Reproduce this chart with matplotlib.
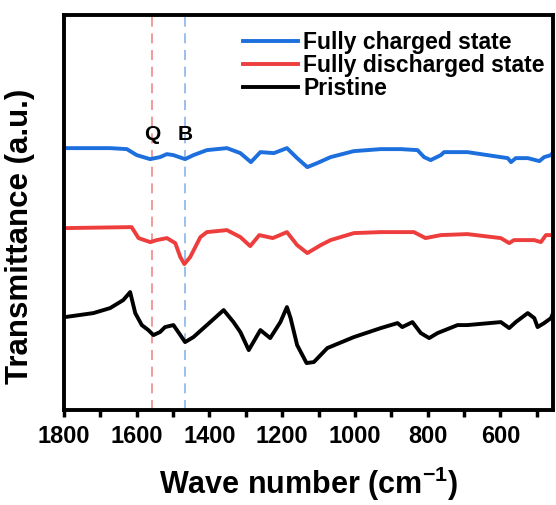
import matplotlib
matplotlib.use("Agg")
import matplotlib.pyplot as plt
from matplotlib.ticker import MultipleLocator

plt.rcParams["font.family"] = ["Liberation Sans", "DejaVu Sans"]
plt.rcParams["font.weight"] = "bold"
plt.rcParams["mathtext.fontset"] = "custom"
plt.rcParams["mathtext.bf"] = "Liberation Sans:bold"
plt.rcParams["mathtext.rm"] = "Liberation Sans:bold"

# ---------- Data (arbitrary offset units) ----------
charged_wn = [1797, 1673, 1627, 1600, 1563, 1536, 1517, 1499, 1467, 1444, 1407,
              1352, 1315, 1286, 1260, 1223, 1187, 1159, 1131, 1104, 1067, 1003,
              929, 874, 828, 810, 792, 764, 755, 691, 599, 580, 571, 558, 525,
              493, 480, 461, 452]
charged_t = [2.62, 2.62, 2.61, 2.55, 2.51, 2.53, 2.56, 2.55, 2.51, 2.55, 2.60,
             2.62, 2.57, 2.48, 2.58, 2.57, 2.62, 2.52, 2.43, 2.47, 2.53, 2.59,
             2.61, 2.61, 2.60, 2.53, 2.50, 2.55, 2.58, 2.58, 2.53, 2.52, 2.48,
             2.52, 2.52, 2.49, 2.53, 2.55, 2.60]

discharged_wn = [1797, 1614, 1595, 1563, 1545, 1517, 1494, 1480, 1469, 1453,
                 1425, 1407, 1352, 1315, 1288, 1263, 1226, 1187, 1159, 1131,
                 1094, 1067, 1003, 929, 874, 838, 806, 764, 691, 599, 576, 563,
                 507, 489, 475, 452]
discharged_t = [1.82, 1.83, 1.72, 1.68, 1.70, 1.72, 1.67, 1.53, 1.46, 1.53,
                1.73, 1.78, 1.80, 1.73, 1.64, 1.75, 1.72, 1.78, 1.65, 1.57,
                1.65, 1.70, 1.77, 1.78, 1.78, 1.78, 1.72, 1.75, 1.76, 1.72,
                1.67, 1.70, 1.70, 1.68, 1.75, 1.75]

pristine_wn = [1797, 1719, 1673, 1637, 1618, 1604, 1586, 1568, 1554, 1536, 1522,
               1499, 1480, 1467, 1444, 1407, 1361, 1334, 1315, 1292, 1260, 1233,
               1205, 1187, 1177, 1159, 1133, 1113, 1076, 1003, 929, 883, 870,
               842, 819, 796, 773, 718, 691, 599, 576, 558, 525, 507, 498, 480,
               461, 452]
pristine_t = [0.93, 0.97, 1.02, 1.10, 1.18, 0.97, 0.85, 0.80, 0.75, 0.78, 0.83,
              0.85, 0.75, 0.68, 0.73, 0.85, 1.00, 0.88, 0.78, 0.60, 0.80, 0.72,
              0.88, 1.03, 0.92, 0.65, 0.47, 0.48, 0.62, 0.73, 0.82, 0.87, 0.83,
              0.88, 0.77, 0.72, 0.77, 0.85, 0.85, 0.88, 0.82, 0.88, 0.97, 0.92,
              0.83, 0.87, 0.92, 1.00]

marker_wn = [1558, 1467]
marker_labels = ["Q", "B"]
marker_colors = ["#f08a8a", "#8ab4ea"]

# ---------- Plot ----------
fig = plt.figure(figsize=(5.56, 5.05), dpi=100)
ax = fig.add_axes([0.115, 0.188, 0.88, 0.782])

ax.plot(charged_wn, charged_t, color="#1c6fdc", lw=2.8, label="Fully charged state")
ax.plot(discharged_wn, discharged_t, color="#ee3d3d", lw=2.8, label="Fully discharged state")
ax.plot(pristine_wn, pristine_t, color="black", lw=2.8, label="Pristine")

for wn, lab, c in zip(marker_wn, marker_labels, marker_colors):
    ax.axvline(wn, color=c, lw=1.2, ls=(0, (6, 4)), zorder=0)
    ax.text(wn, 2.76, lab, ha="center", va="center", fontsize=15, fontweight="bold")

ax.set_xlim(1800, 455)
ax.set_ylim(0, 3.95)
ax.xaxis.set_major_locator(MultipleLocator(200))
ax.xaxis.set_minor_locator(MultipleLocator(100))
ax.tick_params(axis="x", which="both", direction="out", length=5, width=2.5,
               labelsize=17, pad=6)
ax.tick_params(axis="y", left=False, labelleft=False)
for s in ax.spines.values():
    s.set_linewidth(2.8)

ax.set_xlabel("Wave number (cm$^{\\mathregular{-1}}$)", fontsize=22, fontweight="bold", labelpad=12)
ax.set_ylabel("Transmittance (a.u.)", fontsize=22.5, fontweight="bold")
ax.yaxis.set_label_coords(-0.06, 0.44)

ax.legend(loc="upper left", bbox_to_anchor=(0.365, 0.96), frameon=False,
          fontsize=16.5, handlelength=2.4, handletextpad=0.25, labelspacing=0.0,
          borderaxespad=0, borderpad=0)

fig.savefig("out.png", dpi=100)
